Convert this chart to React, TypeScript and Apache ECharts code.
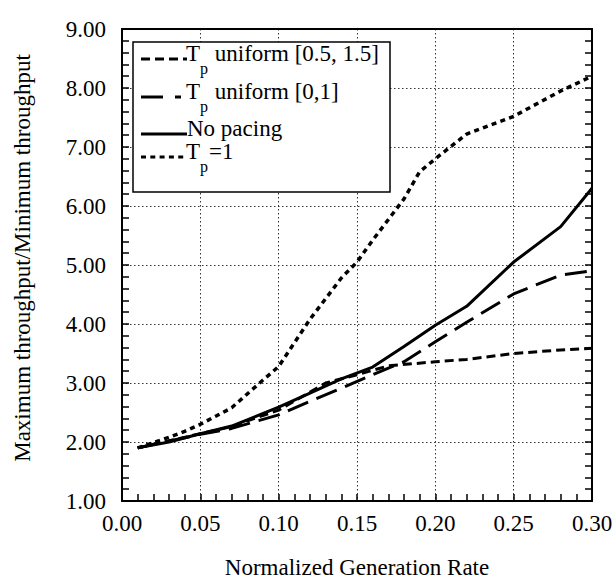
import React, { useEffect, useRef } from "react";
import * as echarts from "echarts";

const X_UNI_05_15 = [0.01, 0.05, 0.07, 0.08, 0.10, 0.13, 0.15, 0.17, 0.20, 0.22, 0.25, 0.28, 0.30];
const Y_UNI_05_15 = [1.90, 2.14, 2.26, 2.36, 2.54, 3.00, 3.14, 3.29, 3.36, 3.40, 3.50, 3.56, 3.59];

const X_UNI_0_1 = [0.01, 0.05, 0.07, 0.10, 0.12, 0.14, 0.16, 0.18, 0.20, 0.22, 0.25, 0.28, 0.30];
const Y_UNI_0_1 = [1.90, 2.13, 2.23, 2.46, 2.69, 2.91, 3.14, 3.36, 3.70, 4.03, 4.51, 4.83, 4.90];

const X_NO_PACING = [0.01, 0.03, 0.05, 0.07, 0.10, 0.12, 0.14, 0.16, 0.18, 0.20, 0.22, 0.25, 0.28, 0.30];
const Y_NO_PACING = [1.90, 2.00, 2.14, 2.27, 2.59, 2.83, 3.07, 3.27, 3.62, 3.98, 4.30, 5.05, 5.65, 6.30];

const X_TP1 = [0.01, 0.02, 0.03, 0.04, 0.05, 0.07, 0.09, 0.10, 0.12, 0.14, 0.15, 0.16, 0.18, 0.19, 0.20, 0.22, 0.25, 0.28, 0.30];
const Y_TP1 = [1.90, 1.99, 2.08, 2.18, 2.30, 2.58, 3.05, 3.28, 4.08, 4.78, 5.05, 5.42, 6.12, 6.58, 6.80, 7.22, 7.52, 7.95, 8.20];

const X_TITLE = "Normalized Generation Rate";
const Y_TITLE = "Maximum throughput/Minimum throughput";

const FONT = "Liberation Serif";

const zip = (xs: number[], ys: number[]) => xs.map((x, i) => [x, ys[i]]);

export default function App() {
  const ref = useRef<HTMLDivElement>(null);
  useEffect(() => {
    if (!ref.current) return;
    const chart = echarts.init(ref.current, null, { renderer: "svg" });

    const axisLine = { show: true, onZero: false, lineStyle: { color: "#000", width: 2 } };
    const ticks = {
      axisTick: { show: true, inside: true, length: 7, lineStyle: { color: "#000", width: 1.5 } },
      minorTick: { show: true, splitNumber: 5, length: 7, lineStyle: { color: "#000", width: 1.5 } },
    };
    const noTicks = { axisTick: { show: false }, minorTick: { show: false } };
    const gridLine = { show: true, lineStyle: { color: "#333", width: 1, type: [1.5, 2.5] } };
    const label = { fontSize: 23, fontFamily: FONT, color: "#000" };

    const lineSeries = (name: string, data: number[][], dash: any, width: number) => ({
      type: "line",
      name,
      data,
      showSymbol: false,
      symbol: "none",
      smooth: false,
      lineStyle: { color: "#000", width, type: dash, cap: "butt" },
      z: 3,
    });

    const legendRow = (y: number, dash: any, x1: number, x2: number) => ({
      type: "line",
      z: 101,
      shape: { x1, y1: y, x2, y2: y },
      style: { stroke: "#000", lineWidth: 3, lineDash: dash },
    });
    const rich = {
      m: { fontSize: 23, fontFamily: FONT, fill: "#000", color: "#000", lineHeight: 34, verticalAlign: "top" },
      s: { fontSize: 16, fontFamily: FONT, fill: "#000", color: "#000", lineHeight: 12, verticalAlign: "bottom", padding: [0, 1, 0, 0] },
    };
    const txt = (x: number, y: number, text: string) => ({
      type: "text",
      z: 101,
      x,
      y,
      style: { text, rich, fontSize: 23, fontFamily: FONT, fill: "#000", align: "left", verticalAlign: "middle" },
    });

    const r1 = 59, r2 = 97, r3 = 134, r4 = 157;

    chart.setOption({
      animation: false,
      backgroundColor: "#fff",
      grid: { left: 122, right: 24, top: 29, bottom: 79, containLabel: false },
      xAxis: [
        {
          type: "value",
          position: "bottom",
          min: 0,
          max: 0.3,
          interval: 0.05,
          axisLine,
          ...ticks,
          splitLine: gridLine,
          axisLabel: { ...label, margin: 11, formatter: (v: number) => v.toFixed(2) },
        },
        {
          type: "value",
          position: "top",
          min: 0,
          max: 0.3,
          interval: 0.05,
          axisLine,
          ...noTicks,
          splitLine: { show: false },
          axisLabel: { show: false },
        },
      ],
      yAxis: [
        {
          type: "value",
          position: "left",
          min: 1,
          max: 9,
          interval: 1,
          axisLine,
          ...ticks,
          splitLine: gridLine,
          axisLabel: { ...label, margin: 16, formatter: (v: number) => v.toFixed(2) },
        },
        {
          type: "value",
          position: "right",
          min: 1,
          max: 9,
          interval: 1,
          axisLine,
          ...ticks,
          splitLine: { show: false },
          axisLabel: { show: false },
        },
      ],
      series: [
        lineSeries("Tp uniform [0.5, 1.5]", zip(X_UNI_05_15, Y_UNI_05_15), [9, 5], 3),
        lineSeries("Tp uniform [0,1]", zip(X_UNI_0_1, Y_UNI_0_1), [22, 9], 3),
        lineSeries("No pacing", zip(X_NO_PACING, Y_NO_PACING), "solid", 3),
        lineSeries("Tp=1", zip(X_TP1, Y_TP1), [5, 4.3], 3.5),
      ],
      graphic: [
        {
          type: "text",
          x: 357,
          y: 567,
          style: { text: X_TITLE, fontSize: 23, fontFamily: FONT, fill: "#000", align: "center", verticalAlign: "middle" },
        },
        {
          type: "text",
          x: 22,
          y: 258,
          rotation: Math.PI / 2,
          style: { text: Y_TITLE, fontSize: 23, fontFamily: FONT, fill: "#000", align: "center", verticalAlign: "middle" },
        },
        {
          type: "rect",
          z: 100,
          shape: { x: 133, y: 42, width: 257, height: 150 },
          style: { fill: "#fff", stroke: "#000", lineWidth: 1.5 },
        },
        legendRow(r1, [9, 5], 141, 187),
        txt(186, r1, "{m|T}{s|p}{m| uniform [0.5, 1.5]}"),
        legendRow(r2, null, 141, 163),
        legendRow(r2, null, 175, 181),
        txt(186, r2, "{m|T}{s|p}{m| uniform [0,1]}"),
        legendRow(r3, null, 141, 187),
        txt(187, r3, "{m|No pacing}"),
        legendRow(r4, [5, 4.3], 141, 184),
        txt(186, r4, "{m|T}{s|p}{m|=1}"),
      ],
    });
    return () => chart.dispose();
  }, []);
  return <div ref={ref} style={{ position: "absolute", left: 0, top: 0, width: 616, height: 580 }} />;
}
